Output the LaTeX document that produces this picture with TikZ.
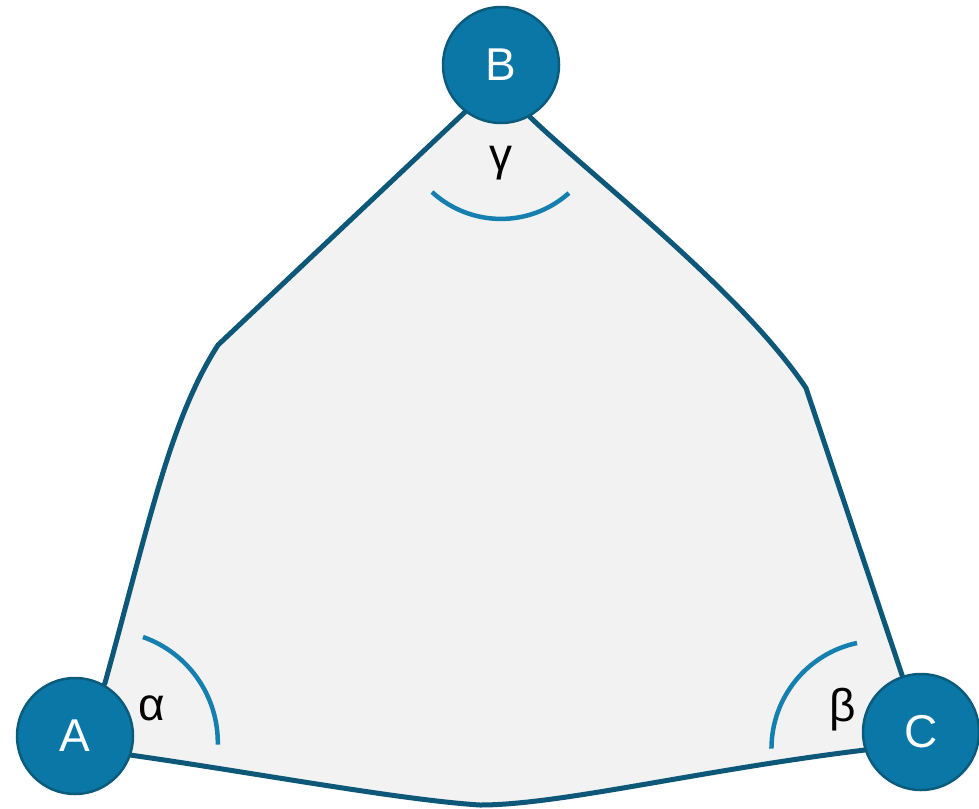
\documentclass[tikz,border=0pt]{standalone}
\usepackage{fontspec}
\setmainfont{Liberation Sans}
\definecolor{edgec}{HTML}{0D5878}
\definecolor{nodefill}{HTML}{0A77A6}
\definecolor{nodeedge}{HTML}{0B5B7D}
\definecolor{arcc}{HTML}{1580B0}
\definecolor{regionc}{HTML}{F2F2F2}
\tikzset{
  vertex/.style={circle, fill=nodefill, draw=nodeedge, line width=2.5pt, minimum size=116pt, inner sep=0pt, text=white, font=\fontsize{46}{46}\selectfont},
  outline/.style={draw=edgec, line width=5pt, line join=round},
  anglearc/.style={draw=arcc, line width=4.5pt},
  anglelabel/.style={font=\fontsize{46}{46}\selectfont, text=black, inner sep=0pt}
}
\begin{document}
\begin{tikzpicture}[x=1pt,y=-1pt]
\useasboundingbox (0,0) rectangle (979,808);
\coordinate (A) at (75,736);
\coordinate (B) at (501,65);
\coordinate (C) at (921,732);
\coordinate (L1) at (105,683);
\coordinate (L2) at (218,345);
\coordinate (L3) at (465,112);
\coordinate (R1) at (530,117);
\coordinate (R2) at (806,388);
\coordinate (R3) at (903,678);
\coordinate (D1) at (865,750);
\coordinate (D2) at (480,805);
\coordinate (D3) at (130,755);
\path[fill=regionc, outline] (A) -- (L1) .. controls (150,520) and (170,420) .. (L2) -- (L3) -- (B) -- (R1) .. controls (590,175) and (740,290) .. (R2) -- (R3) -- (C) -- (D1) .. controls (700,770) and (560,805) .. (D2) .. controls (400,800) and (250,772) .. (D3) -- cycle;
\draw[anglearc] (143,637) arc[start angle=-70.6, end angle=1, radius=112];
\draw[anglearc] (857,643) arc[start angle=-102, end angle=-180, radius=108];
\draw[anglearc] (432,192) arc[start angle=132.6, end angle=48.3, radius=102];
\node[anglelabel] (alpha) at (152,708) {α};
\node[anglelabel] (beta) at (843,710) {β};
\node[anglelabel] (gamma) at (501,163) {γ};
\node[vertex] (nA) at (A) {A};
\node[vertex] (nB) at (B) {B};
\node[vertex] (nC) at (C) {C};
\end{tikzpicture}
\end{document}
